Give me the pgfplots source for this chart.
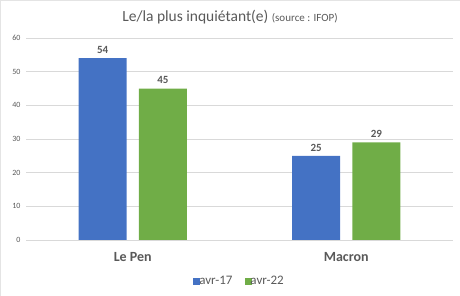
\documentclass[border=0pt]{standalone}
\usepackage{pgfplots}
\pgfplotsset{compat=1.18}
\usepackage{fontspec}
\setmainfont{Carlito}
\definecolor{xblue}{HTML}{4472C4}
\definecolor{xgreen}{HTML}{70AD47}
\definecolor{txt}{HTML}{595959}
\definecolor{gridc}{HTML}{D9D9D9}
\begin{document}
\begin{tikzpicture}
\path[use as bounding box] (0,0) rectangle (460bp,296bp);
\draw[gridc!70,line width=0.5bp] (0.25bp,0.25bp) rectangle (459.75bp,295.75bp);
\node[txt,anchor=base] at (230bp,274bp) {\fontsize{15.5bp}{18bp}\selectfont Le/la plus inquiétant(e) {\fontsize{11bp}{13bp}\selectfont(source : IFOP)}};
\begin{axis}[
  at={(26bp,56bp)}, anchor=south west,
  scale only axis, width=427bp, height=202bp,
  xmin=-0.5, xmax=1.5, ymin=0, ymax=60,
  xtick={0,1}, xticklabels={Le Pen, Macron},
  ytick={0,10,...,60},
  xmajorgrids=false, ymajorgrids, grid style={draw=gridc, line width=0.8bp},
  axis line style={draw=none},
  major tick length=0pt, tick style={draw=none},
  tick label style={txt},
  yticklabel style={font=\fontsize{8bp}{9bp}\selectfont, xshift=-2bp},
  xticklabel style={font=\bfseries\fontsize{14bp}{16bp}\selectfont, yshift=-9bp},
  /pgf/number format/assume math mode=true,
  ybar, bar width=0.224,
  nodes near coords,
  every node near coord/.append style={txt, font=\bfseries\fontsize{11bp}{13bp}\selectfont, yshift=1bp},
  legend style={at={(0.5,-0.203)}, anchor=center, xshift=0bp, draw=none, fill=none,
    font=\fontsize{13bp}{15bp}\selectfont, text=txt, legend columns=2,
    /tikz/every odd column/.append style={column sep=-3bp}},
  legend image code/.code={\fill[#1] (0bp,-3.5bp) rectangle (7bp,3.5bp);},
]
\addplot[fill=xblue, draw=none, bar shift=-0.141] coordinates {(0,54) (1,25)};
\addplot[fill=xgreen, draw=none, bar shift=0.141] coordinates {(0,45) (1,29)};
\legend{avr-17\rule{10bp}{0pt}, avr-22}
\end{axis}
\end{tikzpicture}
\end{document}
